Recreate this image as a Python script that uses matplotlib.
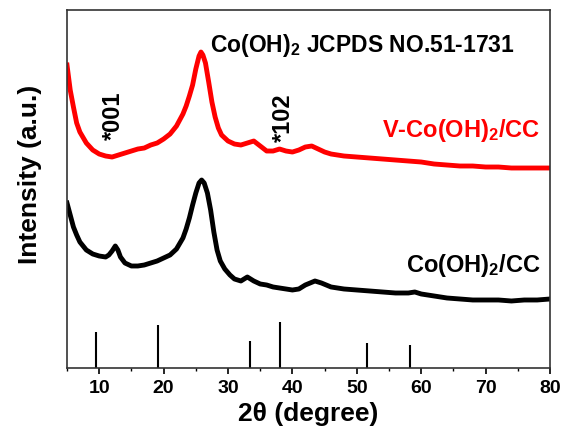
import matplotlib
matplotlib.use("Agg")
from matplotlib import pyplot as plt

plt.rcParams['font.family'] = ['Liberation Sans', 'DejaVu Sans']
plt.rcParams['font.weight'] = 'bold'
plt.rcParams['mathtext.default'] = 'regular'

# V-Co(OH)2/CC pattern (2theta, intensity a.u.)
red_2t = [5.0, 5.5, 6.0, 6.5, 7.0, 8.0, 9.0, 10.0, 11.0, 12.0, 13.0, 14.0, 15.0, 16.0, 17.0,
          18.0, 19.0, 20.0, 21.0, 22.0, 23.0, 23.5, 24.0, 24.5, 25.0, 25.5, 25.8, 26.1, 26.5,
          27.0, 27.5, 28.0, 28.5, 29.0, 30.0, 31.0, 32.0, 33.0, 34.0, 35.0, 36.0, 37.0, 38.0,
          39.0, 40.0, 41.0, 42.0, 43.0, 44.0, 45.0, 46.0, 48.0, 50.0, 52.0, 54.0, 56.0, 58.0,
          60.0, 62.0, 64.0, 66.0, 68.0, 70.0, 72.0, 74.0, 76.0, 78.0, 80.0]
red_int = [303, 278, 261, 245, 236, 225, 218, 214, 212, 211, 213, 215, 217, 219, 220,
           223, 225, 229, 234, 242, 254, 262, 272, 283, 299, 312, 316, 313, 305,
           286, 266, 251, 240, 233, 227, 224, 223, 225, 227, 222, 217, 217, 219,
           217, 216, 218, 221, 222, 219, 216, 214, 212, 211, 210, 209, 208, 207,
           206, 204, 203, 202, 202, 201, 201, 200, 200, 200, 200]

# Co(OH)2/CC pattern
blk_2t = [5.0, 5.5, 6.0, 6.5, 7.0, 8.0, 9.0, 10.0, 11.0, 11.5, 12.0, 12.5, 12.9, 13.3, 14.0,
          15.0, 16.0, 17.0, 18.0, 19.0, 20.0, 21.0, 22.0, 23.0, 23.5, 24.0, 24.5, 25.0, 25.5,
          25.9, 26.3, 26.8, 27.3, 27.8, 28.3, 28.8, 29.5, 30.3, 31.0, 32.0, 33.0, 34.0, 35.0,
          36.0, 37.0, 38.0, 39.0, 40.0, 41.0, 42.0, 43.5, 44.5, 46.0, 48.0, 50.0, 52.0, 54.0,
          56.0, 58.0, 59.0, 60.0, 62.0, 64.0, 66.0, 68.0, 70.0, 72.0, 74.0, 76.0, 78.0, 80.0]
blk_int = [165, 153, 141, 133, 126, 118, 114, 112, 111, 113, 117, 122, 118, 111, 105,
           102, 102, 103, 105, 107, 110, 113, 119, 130, 139, 150, 163, 175, 185,
           188, 185, 175, 158, 136, 118, 107, 99, 93, 89, 87, 91, 87, 84,
           83, 81, 80, 79, 78, 79, 83, 87, 85, 81, 79, 78, 77, 76,
           75, 75, 76, 74, 72, 70, 69, 68, 68, 68, 67, 68, 68, 69]

# JCPDS 51-1731 reference lines
ref_2t = [9.5, 19.1, 33.4, 38.0, 51.6, 58.2]
ref_int = [36, 43, 27, 46, 25, 23]

fig = plt.figure(figsize=(5.63, 4.36), dpi=100)
ax = fig.add_axes([0.119, 0.156, 0.858, 0.821])

ax.plot(red_2t, red_int, color='red', lw=3.5, solid_joinstyle='round')
ax.plot(blk_2t, blk_int, color='black', lw=3.5, solid_joinstyle='round')
ax.vlines(ref_2t, 0, ref_int, color='black', lw=1.5)

ax.set_xlim(5, 80)
ax.set_ylim(0, 358)
ax.set_xticks(range(10, 81, 10))
ax.set_xticks(range(5, 81, 5), minor=True)
ax.set_yticks([])
ax.tick_params(axis='x', direction='out', length=4, width=1.2, labelsize=14, pad=5)
ax.tick_params(axis='x', which='minor', direction='out', length=2.5, width=1.0)
for s in ax.spines.values():
    s.set_linewidth(1.2)
    s.set_color('#333333')

ax.set_xlabel('2θ (degree)', fontsize=19, fontweight='bold', labelpad=3)
ax.set_ylabel('Intensity (a.u.)', fontsize=19, fontweight='bold')
ax.yaxis.set_label_coords(-0.052, 0.54)

ax.text(27.2, 323, 'Co(OH)$_2$ JCPDS NO.51-1731', fontsize=16.5, fontweight='bold', va='center')
ax.text(12.2, 252, '*001', fontsize=17, fontweight='bold', rotation=90, ha='center', va='center')
ax.text(38.6, 250, '*102', fontsize=17, fontweight='bold', rotation=90, ha='center', va='center')
ax.text(78.5, 238, 'V-Co(OH)$_2$/CC', fontsize=17, fontweight='bold', color='red',
        ha='right', va='center')
ax.text(78.5, 102, 'Co(OH)$_2$/CC', fontsize=17, fontweight='bold', color='black',
        ha='right', va='center')

fig.savefig('out.png', dpi=100)
